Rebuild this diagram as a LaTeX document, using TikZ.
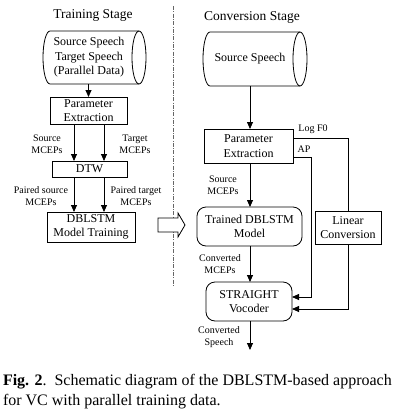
\documentclass[tikz,border=0pt]{standalone}
\usepackage{fontspec}
\setmainfont{Liberation Serif}
\usetikzlibrary{arrows.meta}
\begin{document}
\begin{tikzpicture}[x=1pt,y=-1pt,
  every node/.style={inner sep=0pt, outer sep=0pt},
  title/.style={font=\fontsize{13.5}{15}\selectfont},
  boxtxt/.style={font=\fontsize{12}{14.5}\selectfont, align=center},
  box/.style={draw, line width=0.8pt, boxtxt},
  rbox/.style={box, rounded corners=9pt},
  lbl/.style={font=\fontsize{10}{12}\selectfont, align=center},
  conn/.style={line width=0.8pt},
  arr/.style={conn, -{Triangle[length=7pt,width=6pt]}},
  cyl/.style={line width=0.8pt}
]
\useasboundingbox (0,0) rectangle (410,416);

% titles
\node[title] (t1) at (93,15) {Training Stage};
\node[title] (t2) at (252,17) {Conversion Stage};

% separator
\draw[gray!80!black, line width=0.8pt, dash pattern=on 4pt off 1.3pt on 1pt off 1.3pt] (173,6) -- (173,285);

% left cylinder
\draw[cyl] (139,31) -- (50,31) arc[start angle=90, end angle=270, x radius=7pt, y radius=26.5pt] -- (139,84);
\draw[cyl] (139,57.5) ellipse [x radius=7, y radius=26.5];
\node[boxtxt, minimum width=89, minimum height=53] (cylL) at (89,57.5) {Source Speech\\Target Speech\\(Parallel Data)};

% left boxes
\node[box, minimum width=77, minimum height=27] (pe1) at (88.5,110.5) {Parameter\\Extraction};
\node[box, minimum width=75, minimum height=16] (dtw) at (89.5,169) {DTW};
\node[box, minimum width=88, minimum height=30] (dbt) at (91,227) {DBLSTM\\Model Training};

\draw[arr] (cylL.south -| pe1.north) -- (pe1.north);
\draw[arr] (pe1.south -| 74,0) -- (dtw.north -| 74,0);
\draw[arr] (pe1.south -| 104,0) -- (dtw.north -| 104,0);
\draw[arr] (dtw.south -| 74,0) -- (dbt.north -| 74,0);
\draw[arr] (dtw.south -| 104,0) -- (dbt.north -| 104,0);

\node[lbl] (ls1) at (47,144) {Source\\MCEPs};
\node[lbl] (lt1) at (135,144) {Target\\MCEPs};
\node[lbl] (lps) at (41,196) {Paired source\\MCEPs};
\node[lbl] (lpt) at (136,196) {Paired target\\MCEPs};

% block arrow
\draw[line width=0.8pt, fill=white] (158,218) -- (178,218) -- (178,213) -- (185,225) -- (178,237) -- (178,232) -- (158,232) -- cycle;

% right cylinder
\draw[cyl] (300,32) -- (210,32) arc[start angle=90, end angle=270, x radius=7pt, y radius=27pt] -- (300,86);
\draw[cyl] (300,59) ellipse [x radius=7, y radius=27];
\node[boxtxt, minimum width=90, minimum height=54] (cylR) at (250,59) {Source Speech};

% right boxes
\node[box, minimum width=89, minimum height=34] (pe2) at (248.5,146) {Parameter\\Extraction};
\node[rbox, minimum width=105, minimum height=39] (tdm) at (249.5,226.5) {Trained DBLSTM\\Model};
\node[rbox, minimum width=86, minimum height=39] (sv) at (249,301.5) {STRAIGHT\\Vocoder};
\node[box, minimum width=66, minimum height=33] (lc) at (348,227.5) {Linear\\Conversion};
\coordinate (out) at (250,350);

\draw[arr] (cylR.south -| 250,0) -- (pe2.north -| 250,0);
\draw[arr] (pe2.south -| 250,0) -- (tdm.north -| 250,0);
\draw[arr] (tdm.south -| 250,0) -- (sv.north -| 250,0);
\draw[arr] (sv.south -| 250,0) -- (out);

\draw[conn] ([yshift=8pt]pe2.east) -| (lc.north);
\draw[arr] ([yshift=-11pt]pe2.east) -- ++(18,0) |- ([yshift=4.5pt]sv.east);
\draw[arr] (lc.south) |- ([yshift=-7.5pt]sv.east);

\node[lbl] (llf) at (313,129) {Log F0};
\node[lbl] (lap) at (304,149) {AP};
\node[lbl] (ls2) at (223,185) {Source\\MCEPs};
\node[lbl] (lcm) at (220,264) {Converted\\MCEPs};
\node[lbl] (lcs) at (219,337) {Converted\\Speech};

% caption
\node[anchor=north west, align=left, font=\fontsize{16}{20}\selectfont] (cap) at (3,374)
  {\textbf{Fig. 2}.\ \ Schematic diagram of the DBLSTM-based approach\\for VC with parallel training data.};
\end{tikzpicture}
\end{document}
